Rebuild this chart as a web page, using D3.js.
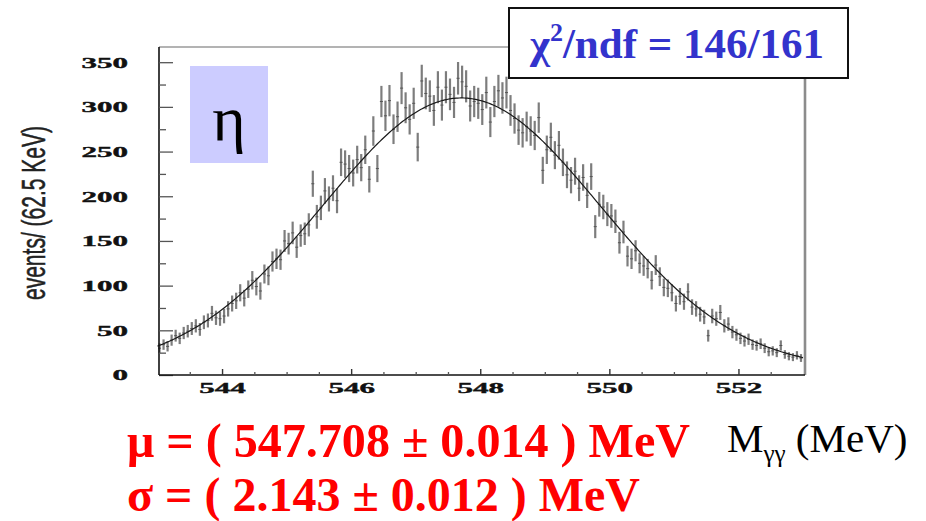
<!DOCTYPE html>
<html>
<head>
<meta charset="utf-8">
<script src="https://cdn.jsdelivr.net/npm/d3@7"></script>
<style>
  body { margin: 0; background: #fff; }
  svg { display: block; }
</style>
</head>
<body>
<svg id="chart" width="926" height="521"></svg>
<script>
// Invariant-mass histogram of the eta -> gamma gamma peak, 62.5 keV bins
const massLow = 543;
const massHigh = 553;
const binWidth = 0.0625;

// events per bin, 160 bins from 543 to 553 MeV
const counts = [
  30, 34, 32, 39, 44, 41, 47, 49, 52, 55, 51, 59, 61, 69, 64, 63,
  66, 74, 80, 83, 92, 86, 96, 106, 99, 94, 113, 111, 127, 130, 129, 150,
  147, 159, 143, 156, 158, 168, 214, 177, 187, 206, 197, 209, 195, 238, 236, 231,
  226, 241, 232, 252, 219, 273, 231, 306, 290, 307, 275, 289, 321, 299, 286, 304,
  255, 329, 315, 312, 296, 322, 302, 322, 314, 305, 332, 328, 323, 301, 306, 304,
  297, 316, 283, 306, 318, 310, 316, 296, 287, 274, 271, 278, 273, 268, 288, 229,
  252, 266, 246, 257, 238, 224, 218, 228, 209, 221, 201, 222, 166, 191, 188, 180,
  178, 172, 148, 160, 133, 130, 139, 125, 122, 119, 106, 123, 110, 98, 97, 92,
  80, 88, 82, 93, 76, 74, 68, 65, 44, 66, 63, 70, 55, 57, 48, 45,
  41, 38, 40, 34, 33, 35, 30, 26, 27, 25, 33, 23, 21, 20, 22, 19
];

// axis ticks
const yMajorTicks = [0, 50, 100, 150, 200, 250, 300, 350];
const yMinorTicks = [25, 75, 125, 175, 225, 275, 325];
const xMajorTicks = [544, 546, 548, 550, 552];
const xMinorTicks = [543.5, 544.5, 545, 545.5, 546.5, 547, 547.5, 548.5, 549, 549.5, 550.5, 551, 551.5, 552.5];

// Gaussian fit result (plus flat background)
const fitMean = 547.708;
const fitMeanErr = 0.014;
const fitSigma = 2.143;
const fitSigmaErr = 0.012;
const fitAmplitude = 305;
const fitBackground = 5;
const chi2 = 146;
const ndf = 161;

const yAxisTitle = "events/ (62.5 KeV)";

const svg = d3.select("#chart");

const x = d3.scaleLinear().domain([massLow, massHigh]).range([157.5, 803]);
const y = d3.scaleLinear().domain([0, 367]).range([375, 47]);

const frameLeft = 159, frameRight = 805, frameTop = 47, frameBottom = 375;

// soft rendering of the data marks
const defs = svg.append("defs");
defs.append("filter").attr("id", "soft")
  .append("feGaussianBlur").attr("stdDeviation", 0.45);

// frame: grey top and right edges
svg.append("line")
  .attr("x1", frameLeft).attr("x2", frameRight)
  .attr("y1", frameTop).attr("y2", frameTop)
  .attr("stroke", "#9a9a9a").attr("stroke-width", 1.6);
svg.append("line")
  .attr("x1", frameRight).attr("x2", frameRight)
  .attr("y1", frameTop).attr("y2", frameBottom)
  .attr("stroke", "#8c8c8c").attr("stroke-width", 2.6);

// data points with statistical error bars
const bins = counts.map((c, i) => ({
  lo: massLow + i * binWidth,
  hi: massLow + (i + 1) * binWidth,
  n: c
}));

const marks = svg.append("g").attr("filter", "url(#soft)");
marks.selectAll("line.err")
  .data(bins)
  .join("line")
  .attr("class", "err")
  .attr("x1", d => x((d.lo + d.hi) / 2))
  .attr("x2", d => x((d.lo + d.hi) / 2))
  .attr("y1", d => y(d.n + Math.sqrt(d.n)))
  .attr("y2", d => y(d.n - Math.sqrt(d.n)))
  .attr("stroke", "#666")
  .attr("stroke-opacity", 0.85)
  .attr("stroke-width", 2.2);
marks.selectAll("line.ctr")
  .data(bins)
  .join("line")
  .attr("class", "ctr")
  .attr("x1", d => x(d.lo) + 0.5)
  .attr("x2", d => x(d.hi) - 0.5)
  .attr("y1", d => y(d.n))
  .attr("y2", d => y(d.n))
  .attr("stroke", "#555")
  .attr("stroke-width", 1);

// fit curve
const fitFn = m => fitAmplitude * Math.exp(-((m - fitMean) ** 2) / (2 * fitSigma * fitSigma)) + fitBackground;
const fitPts = d3.range(0, 401).map(k => {
  const m = massLow + (massHigh - massLow) * k / 400;
  return [m, fitFn(m)];
});
svg.append("path")
  .datum(fitPts)
  .attr("fill", "none")
  .attr("stroke", "#1a1a1a")
  .attr("stroke-width", 1.2)
  .attr("d", d3.line().x(d => x(d[0])).y(d => y(d[1])));

// axes
const tickFont = "'Liberation Serif', 'DejaVu Serif', serif";
function styleLabels(g) {
  g.selectAll("text")
    .attr("font-family", tickFont)
    .attr("font-weight", "bold")
    .attr("font-size", 15)
    .attr("fill", "#111")
    .attr("stroke", "#111")
    .attr("stroke-width", 0.4)
    .attr("textLength", function () { return this.textContent.length * 15.5; })
    .attr("lengthAdjust", "spacingAndGlyphs");
}

const yAxis = svg.append("g")
  .attr("transform", `translate(${frameLeft},0)`)
  .call(d3.axisLeft(y).tickValues(yMajorTicks).tickSize(-14).tickSizeOuter(0).tickPadding(31).tickFormat(d3.format("d")));
yAxis.select(".domain").attr("stroke", "#111").attr("stroke-width", 1.6)
  .attr("d", `M0,${frameTop}V${frameBottom}`);
yAxis.selectAll(".tick line").attr("stroke", "#555").attr("stroke-width", 1.3);
styleLabels(yAxis);

svg.append("g")
  .attr("transform", `translate(${frameLeft},0)`)
  .call(d3.axisLeft(y).tickValues(yMinorTicks).tickSize(-7).tickSizeOuter(0).tickFormat(""))
  .call(g => g.select(".domain").remove())
  .selectAll(".tick line").attr("stroke", "#555").attr("stroke-width", 1.3);

const xAxis = svg.append("g")
  .attr("transform", `translate(0,${frameBottom})`)
  .call(d3.axisBottom(x).tickValues(xMajorTicks).tickSize(-6).tickSizeOuter(0).tickPadding(7).tickFormat(d3.format("d")));
xAxis.select(".domain").attr("stroke", "#111").attr("stroke-width", 1.6)
  .attr("d", `M${frameLeft},0H${frameRight}`);
xAxis.selectAll(".tick line").attr("stroke", "#333").attr("stroke-width", 1.4);
styleLabels(xAxis);

svg.append("g")
  .attr("transform", `translate(0,${frameBottom})`)
  .call(d3.axisBottom(x).tickValues(xMinorTicks).tickSize(-3).tickSizeOuter(0).tickFormat(""))
  .call(g => g.select(".domain").remove())
  .selectAll(".tick line").attr("stroke", "#555").attr("stroke-width", 1.3);

// y-axis title (tall, condensed lettering)
svg.append("text")
  .attr("transform", "translate(45,213) rotate(-90)")
  .attr("text-anchor", "middle")
  .attr("font-family", "'Liberation Sans', Arial, sans-serif")
  .attr("font-size", 33)
  .attr("fill", "#222")
  .attr("stroke", "#222")
  .attr("stroke-width", 0.5)
  .attr("textLength", 174)
  .attr("lengthAdjust", "spacingAndGlyphs")
  .text(yAxisTitle);

// eta label box
svg.append("rect")
  .attr("x", 190).attr("y", 66).attr("width", 78).attr("height", 97)
  .attr("fill", "#ccccff");
svg.append("text")
  .attr("x", 229).attr("y", 140)
  .attr("text-anchor", "middle")
  .attr("font-family", "'Liberation Serif', 'DejaVu Serif', serif")
  .attr("font-size", 64)
  .attr("fill", "#000")
  .text("η");

// chi-square box
svg.append("rect")
  .attr("x", 509).attr("y", 8).attr("width", 339).attr("height", 70)
  .attr("fill", "#fff").attr("stroke", "#111").attr("stroke-width", 2);
const chiLabel = svg.append("text")
  .attr("x", 677).attr("y", 58)
  .attr("text-anchor", "middle")
  .attr("font-family", "'Liberation Serif', 'DejaVu Serif', serif")
  .attr("font-weight", "bold")
  .attr("font-size", 43)
  .attr("fill", "#3333cc");
chiLabel.append("tspan").text("χ");
chiLabel.append("tspan").attr("font-size", 26).attr("dy", -17).text("2");
chiLabel.append("tspan").attr("dy", 17).text(`/ndf = ${chi2}/${ndf}`);

// fit results
const resultFont = "'Liberation Serif', 'DejaVu Serif', serif";
svg.append("text")
  .attr("x", 127).attr("y", 457)
  .attr("font-family", resultFont).attr("font-weight", "bold")
  .attr("font-size", 48).attr("fill", "#ff0000")
  .attr("textLength", 563).attr("lengthAdjust", "spacingAndGlyphs")
  .text(`μ = ( ${fitMean.toFixed(3)} ± ${fitMeanErr.toFixed(3)} ) MeV`);
svg.append("text")
  .attr("x", 127).attr("y", 511)
  .attr("font-family", resultFont).attr("font-weight", "bold")
  .attr("font-size", 48).attr("fill", "#ff0000")
  .attr("textLength", 513).attr("lengthAdjust", "spacingAndGlyphs")
  .text(`σ = ( ${fitSigma.toFixed(3)} ± ${fitSigmaErr.toFixed(3)} ) MeV`);

// x-axis title
const xTitle = svg.append("text")
  .attr("x", 727).attr("y", 452)
  .attr("font-family", resultFont)
  .attr("font-size", 41).attr("fill", "#000");
xTitle.append("tspan").text("M");
xTitle.append("tspan").attr("font-size", 25).attr("dy", 10).text("γγ");
xTitle.append("tspan").attr("dy", -10).text(" (MeV)");
</script>
</body>
</html>
